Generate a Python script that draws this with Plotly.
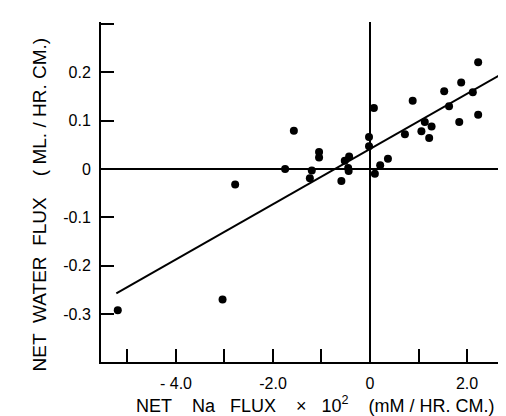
import plotly.graph_objects as go

# Data
na_flux = [-5.20, -3.04, -2.78, -1.75, -1.57, -1.05, -1.05, -1.20, -1.24,
           -0.59, -0.52, -0.43, -0.45, -0.44, -0.02, -0.02, 0.08, 0.37,
           0.21, 0.10, 2.23, 1.88, 1.53, 2.12, 0.88, 1.63, 2.23, 1.84,
           1.13, 1.27, 1.06, 0.72, 1.22]
water_flux = [-0.292, -0.270, -0.032, 0.000, 0.079, 0.035, 0.024, -0.003, -0.019,
              -0.025, 0.017, 0.026, 0.002, -0.004, 0.066, 0.047, 0.126, 0.021,
              0.008, -0.010, 0.221, 0.179, 0.161, 0.159, 0.141, 0.130, 0.112, 0.097,
              0.097, 0.088, 0.078, 0.072, 0.064]

fit_x = [-5.23, 2.69]
fit_y = [-0.257, 0.195]

x_tickvals = [-4, -2, 0, 2]
x_ticktext = ["- 4.0", "-2.0", "0", "2.0"]
y_tickvals = [0.2, 0.1, 0, -0.1, -0.2, -0.3]
y_ticktext = ["0.2", "0.1", "0", "-0.1", "-0.2", "-0.3"]

FONT = "Liberation Sans"
NB = "\u00a0"

x_title = (f"NET{NB*4}Na{NB*3}FLUX{NB*4}\u00d7{NB*3}10<sup>2</sup>{NB*4}"
           f"(mM{NB}/{NB}HR.{NB}CM.)")
y_title = f"NET{NB*2}WATER{NB*2}FLUX{NB*4}({NB}ML.{NB}/{NB}HR.{NB}CM.)"

fig = go.Figure()
fig.add_trace(go.Scatter(x=fit_x, y=fit_y, mode="lines",
                         line=dict(color="black", width=2), showlegend=False))
fig.add_trace(go.Scatter(x=na_flux, y=water_flux, mode="markers",
                         marker=dict(color="black", size=8), showlegend=False))

tick_style = dict(ticks="inside", ticklen=13, tickwidth=2, tickcolor="black")

fig.update_layout(
    width=506, height=416,
    margin=dict(l=93, r=0, t=14, b=62),
    paper_bgcolor="white", plot_bgcolor="white",
    font=dict(family=FONT, color="black", size=16),
    xaxis=dict(range=[-5.546, 2.969], tickvals=x_tickvals, ticktext=x_ticktext,
               minor=dict(dtick=1, tick0=0, **tick_style),
               showline=True, linewidth=2, linecolor="black", mirror=False,
               showgrid=False, zeroline=True, zerolinewidth=2, zerolinecolor="black",
               ticklabelstandoff=6, **tick_style),
    yaxis=dict(range=[-0.399, 0.304], tickvals=y_tickvals, ticktext=y_ticktext,
               minor=dict(dtick=0.1, tick0=0, **tick_style),
               showline=True, linewidth=2, linecolor="black", mirror=False,
               showgrid=False, zeroline=True, zerolinewidth=2, zerolinecolor="black",
               ticklabelstandoff=5, **tick_style),
    annotations=[
        dict(text=y_title,
             xref="paper", yref="paper", x=-0.148, y=0.463, textangle=-90,
             showarrow=False, xanchor="center", yanchor="middle",
             font=dict(family=FONT, size=19)),
        dict(text=x_title,
             xref="paper", yref="paper", x=0.52, y=-0.124,
             showarrow=False, xanchor="center", yanchor="middle",
             font=dict(family=FONT, size=18)),
    ],
)

fig.write_html("out.html")
